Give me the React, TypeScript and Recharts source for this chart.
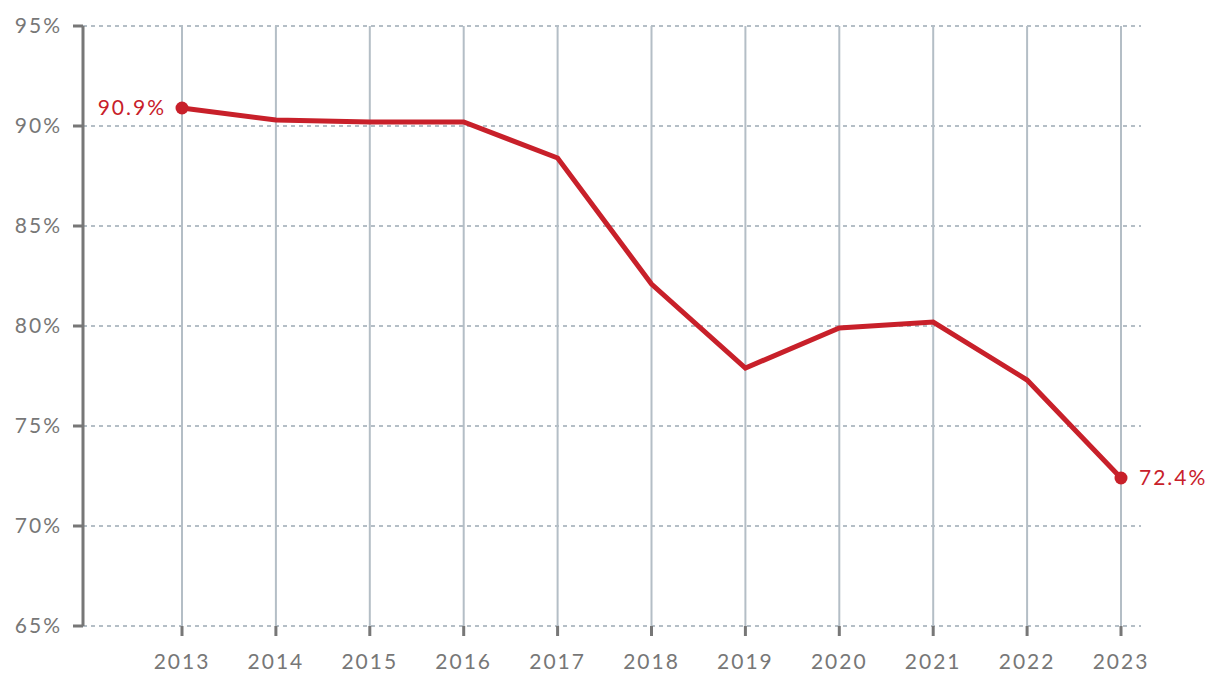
import React from 'react';
import { LineChart, Line, XAxis, YAxis, CartesianGrid, ReferenceLine } from 'recharts';

const years = ['2013', '2014', '2015', '2016', '2017', '2018', '2019', '2020', '2021', '2022', '2023'];
const rates = [90.9, 90.3, 90.2, 90.2, 88.4, 82.1, 77.9, 79.9, 80.2, 77.3, 72.4];
const yTicks = [65, 70, 75, 80, 85, 90, 95];

const data = years.map((year, i) => ({ year, rate: rates[i] }));

const RED = '#c8202a';
const AXIS = '#777777';
const GRID = '#b4bec6';
const FONT = 'Lato, "Open Sans", sans-serif';
const SPACING = 2;

const EndDot = (props: any) => {
    const { cx, cy, index, value } = props;
    const last = data.length - 1;
    if (index !== 0 && index !== last) return <g key={`d${index}`} />;
    const isFirst = index === 0;
    return (
        <g key={`d${index}`}>
            <circle cx={cx} cy={cy} r={6.5} fill={RED} />
            <text
                x={isFirst ? cx - 16 : cx + 18}
                y={cy}
                dy="0.35em"
                textAnchor={isFirst ? 'end' : 'start'}
                fill={RED}
                fontSize={21}
                fontFamily={FONT}
                letterSpacing={SPACING}
            >
                {value.toFixed(1)}%
            </text>
        </g>
    );
};

const App: React.FC = () => {
    return (
        <div style={{ position: 'absolute', left: 0, top: 0, width: 1220, height: 686, background: '#fff' }}>
            <LineChart width={1220} height={686} data={data} margin={{ top: 26, right: 79, bottom: 0, left: 0 }}>
                <CartesianGrid horizontal={true} vertical={false} stroke={GRID} strokeWidth={2} strokeDasharray="4 4" />
                {/* solid vertical grid only at the years */}
                {years.map((y) => (
                    <ReferenceLine key={y} x={y} stroke={GRID} strokeWidth={2} />
                ))}
                <XAxis
                    dataKey="year"
                    padding={{ left: 99, right: 20 }}
                    axisLine={false}
                    tickLine={{ stroke: AXIS, strokeWidth: 3 }}
                    tickSize={10}
                    tickMargin={18}
                    height={60}
                    tick={{ fill: AXIS, fontSize: 21, fontFamily: FONT, letterSpacing: SPACING }}
                />
                <YAxis
                    domain={[65, 95]}
                    ticks={yTicks}
                    width={83}
                    axisLine={{ stroke: AXIS, strokeWidth: 3 }}
                    tickLine={{ stroke: AXIS, strokeWidth: 3 }}
                    tickSize={10}
                    tickMargin={11}
                    tickFormatter={(v: number) => `${v}%`}
                    tick={{ fill: AXIS, fontSize: 21, fontFamily: FONT, letterSpacing: SPACING }}
                />
                <Line
                    type="linear"
                    dataKey="rate"
                    stroke={RED}
                    strokeWidth={5}
                    dot={EndDot}
                    activeDot={false}
                    isAnimationActive={false}
                />
            </LineChart>
        </div>
    );
};

export default App;
